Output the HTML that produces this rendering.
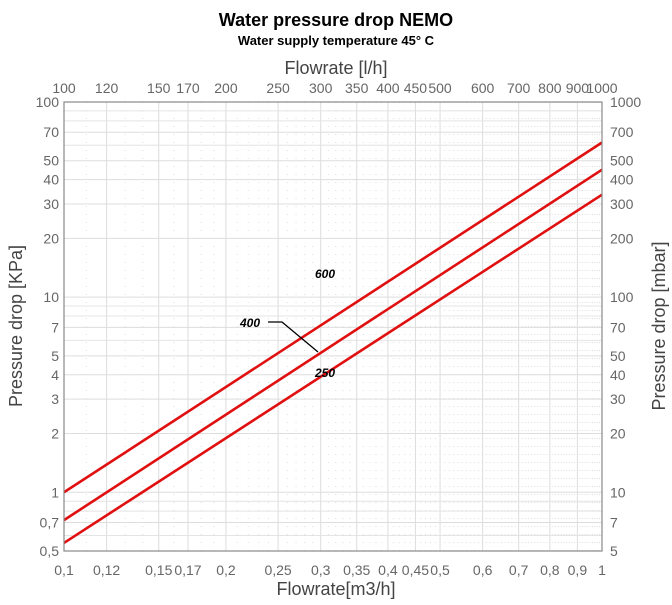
<!DOCTYPE html>
<html><head><meta charset="utf-8"><style>
body{margin:0;background:#fff;font-family:"Liberation Sans",sans-serif}
</style></head><body>
<svg id="c" width="672" height="600" xmlns="http://www.w3.org/2000/svg" font-family="Liberation Sans, sans-serif">
<text x="336" y="26" text-anchor="middle" font-size="18" font-weight="bold">Water pressure drop NEMO</text>
<text x="336" y="45" text-anchor="middle" font-size="13" font-weight="bold">Water supply temperature 45° C</text>
<text x="336" y="74" text-anchor="middle" font-size="18" fill="#444">Flowrate [l/h]</text>
<text x="336" y="595" text-anchor="middle" font-size="18" fill="#444">Flowrate[m3/h]</text>
<text transform="translate(22,326) rotate(-90)" text-anchor="middle" font-size="18" fill="#444">Pressure drop [KPa]</text>
<text transform="translate(665,326) rotate(-90)" text-anchor="middle" font-size="18" fill="#444">Pressure drop [mbar]</text>
<g id="grid"></g><g id="ticks"></g><g id="series"></g>
<rect x="64" y="102" width="538" height="449" fill="none" stroke="#888" stroke-width="1.2"/>
<text x="325" y="278" font-size="12" font-weight="bold" font-style="italic" text-anchor="middle">600</text>
<text x="250" y="327" font-size="12" font-weight="bold" font-style="italic" text-anchor="middle">400</text>
<polyline points="268,322 282,322 318,352" fill="none" stroke="#000" stroke-width="1.3"/>
<text x="325" y="377" font-size="12" font-weight="bold" font-style="italic" text-anchor="middle">250</text>
</svg>
<script>
const xTicks=[0.1,0.12,0.15,0.17,0.2,0.25,0.3,0.35,0.4,0.45,0.5,0.6,0.7,0.8,0.9,1];
const xTickLabels=["0,1","0,12","0,15","0,17","0,2","0,25","0,3","0,35","0,4","0,45","0,5","0,6","0,7","0,8","0,9","1"];
const topTickLabels=["100","120","150","170","200","250","300","350","400","450","500","600","700","800","900","1000"];
const yTicks=[0.5,0.7,1,2,3,4,5,7,10,20,30,40,50,70,100];
const yTickLabels=["0,5","0,7","1","2","3","4","5","7","10","20","30","40","50","70","100"];
const rightTickLabels=["5","7","10","20","30","40","50","70","100","200","300","400","500","700","1000"];
const yGrid=[0.6,0.8,0.9,6,8,9,60,80,90];
const seriesNames=["600","400","250"];
const seriesX=[0.1,1];
const s600=[1.0,62];
const s400=[0.72,45];
const s250=[0.55,33.5];
const X0=64,X1=602,Y0=551,Y1=102;
const sx=v=>X0+(Math.log10(v)-Math.log10(0.1))/(Math.log10(1)-Math.log10(0.1))*(X1-X0);
const sy=v=>Y0-(Math.log10(v)-Math.log10(0.5))/(Math.log10(100)-Math.log10(0.5))*(Y0-Y1);
const NS="http://www.w3.org/2000/svg";
const g=document.getElementById('grid'),t=document.getElementById('ticks'),s=document.getElementById('series');
function mk(tag,a,p){const e=document.createElementNS(NS,tag);for(const k in a)e.setAttribute(k,a[k]);p.appendChild(e);return e;}
for(let x=0.1;x<1;x+=0.01){const l=mk('line',{x1:sx(x),x2:sx(x),y1:Y1,y2:Y0,stroke:'#ddd','stroke-width':1,'stroke-dasharray':'1,7'},g);

}
xTicks.forEach((v,i)=>{const l=mk('line',{x1:sx(v),x2:sx(v),y1:Y1,y2:Y0,stroke:'#ddd','stroke-width':1},g);


const a=mk('text',{x:sx(v),y:575,'text-anchor':'middle','font-size':14,fill:'#666'},t);a.textContent=xTickLabels[i];


const b=mk('text',{x:sx(v),y:93,'text-anchor':'middle','font-size':14,fill:'#666'},t);b.textContent=topTickLabels[i];

});
yGrid.forEach(v=>{const l=mk('line',{x1:X0,x2:X1,y1:sy(v),y2:sy(v),stroke:'#e4e4e4','stroke-width':1},g);

});
yTicks.forEach((v,i)=>{const l=mk('line',{x1:X0,x2:X1,y1:sy(v),y2:sy(v),stroke:'#ddd','stroke-width':1},g);


const a=mk('text',{x:59,y:sy(v)+5,'text-anchor':'end','font-size':14,fill:'#666'},t);a.textContent=yTickLabels[i];


const b=mk('text',{x:610,y:sy(v)+5,'text-anchor':'start','font-size':14,fill:'#666'},t);b.textContent=rightTickLabels[i];

});
[s600,s400,s250].forEach((d,k)=>{const l=mk('line',{x1:sx(seriesX[0]),y1:sy(d[0]),x2:sx(seriesX[1]),y2:sy(d[1]),stroke:'#e01010','stroke-width':2.6},s);

});
</script>
</body></html>
